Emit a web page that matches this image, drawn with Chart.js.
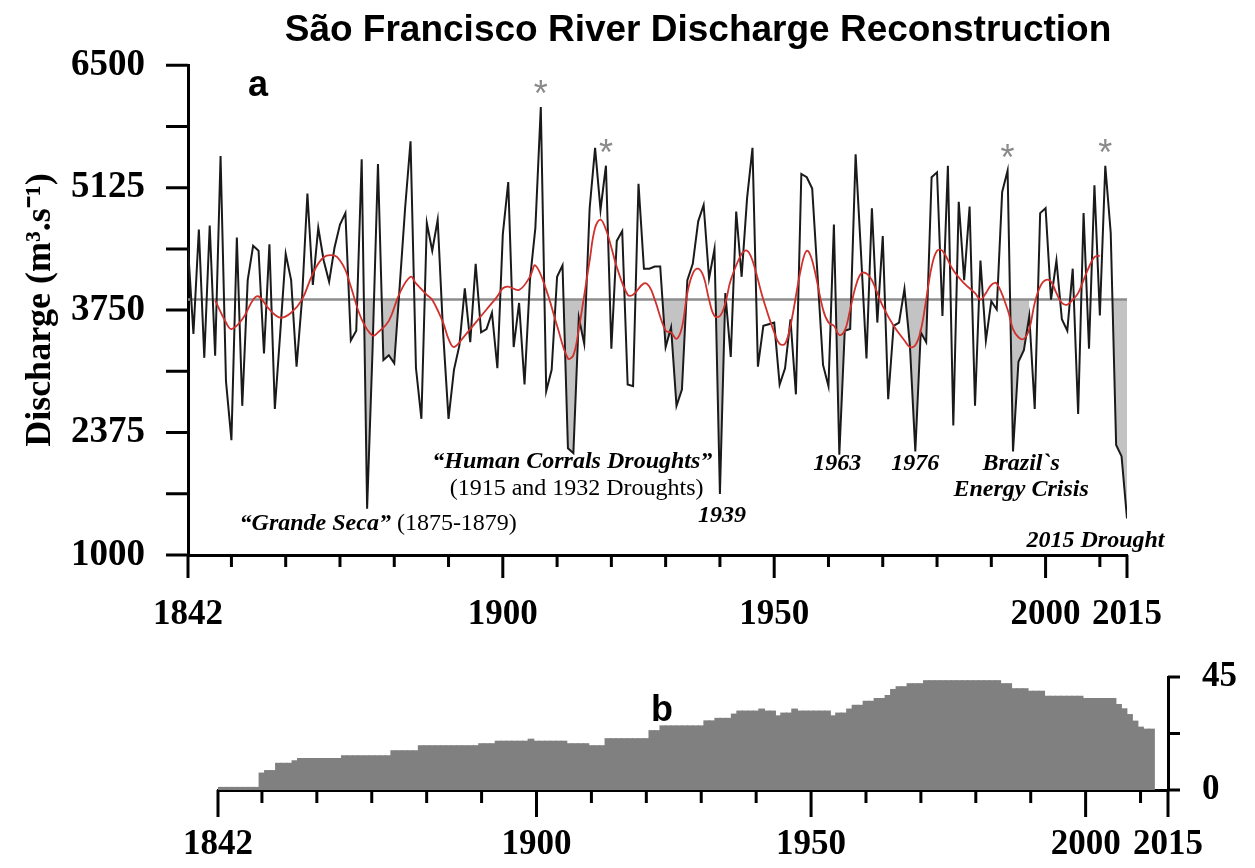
<!DOCTYPE html>
<html>
<head>
<meta charset="utf-8">
<title>São Francisco River Discharge Reconstruction</title>
<script src="https://cdn.jsdelivr.net/npm/chart.js@4.4.1/dist/chart.umd.min.js"></script>
<style>
  html, body { margin: 0; padding: 0; background: #fff; }
  #wrap { position: relative; width: 1255px; height: 868px; }
  #wrap canvas { position: absolute; left: 0; top: 0; }
</style>
</head>
<body>
<div id="wrap">
  <canvas id="dischargeChart" width="1255" height="868"></canvas>
  <canvas id="depthChart" width="1255" height="868"></canvas>
</div>
<script>
// annual reconstructed discharge (m3/s), 1842-2015
const FIRST_YEAR = 1842;
const discharge = [
  4454, 3482, 4655, 3214, 4700, 3237, 5481, 2950,
  2290, 4564, 2675, 4087, 4472, 4417, 3262, 4490, 2639, 3500,
  4381, 4087, 3115, 3867, 5059, 4032, 4674, 4307, 4069, 4454,
  4710, 4839, 3409, 3519, 5444, 1520, 3300, 5389, 3189, 3244,
  3152, 4014, 4894, 5646, 3100, 2529, 4728, 4417, 4765, 3500,
  2529, 3079, 3354, 3995, 3390, 4270, 3500, 3537, 3720, 3097,
  4600, 5187, 3335, 3830, 2914, 4087, 4674, 6031, 2840, 3079,
  4124, 4252, 2199, 2144, 3665, 3372, 4894, 5572, 4875, 5371,
  3317, 4527, 4637, 2914, 2895, 5169, 4215, 4215, 4240, 4240,
  3335, 3555, 2675, 2859, 4087, 4270, 4747, 4930, 4105, 4435,
  1685, 3941, 3225, 4857, 4124, 5004, 5572, 3115, 3574, 3592,
  3610, 2914, 3097, 3647, 2804, 5279, 5242, 5114, 4124, 3134,
  2895, 4710, 2125, 3519, 3537, 5499, 4381, 3207, 4894, 3610,
  4582, 2749, 3574, 3610, 3988, 3354, 2162, 3500, 3390, 5242,
  5297, 3684, 5371, 2455, 4967, 4087, 4912, 2675, 4307, 3409,
  3849, 3757, 5077, 5316, 2162, 3170, 3299, 3684, 2639, 4839,
  4894, 3867, 4307, 3647, 3519, 4215, 2584, 4839, 3317, 5151,
  3691, 5371, 4619, 2235, 2107, 1410
];
const years = discharge.map((v, i) => FIRST_YEAR + i);

// low-pass filtered curve (red)
const smoothYears = [1847, 1849, 1850, 1852, 1854, 1855, 1857, 1859, 1861, 1863, 1865, 1867, 1869, 1870, 1871, 1872, 1874, 1876, 1877, 1879,
  1881, 1883, 1884, 1886, 1887, 1889, 1890, 1891, 1893, 1895, 1897, 1899, 1900, 1901, 1903, 1905, 1906, 1908, 1910, 1912,
  1913, 1914, 1916, 1917, 1918, 1919, 1920, 1921, 1923, 1924, 1926, 1927, 1928, 1930, 1931, 1932, 1933, 1934, 1935, 1936,
  1937, 1938, 1939, 1940, 1941, 1942, 1944, 1945, 1946, 1948, 1950, 1951, 1952, 1953, 1955, 1956, 1957, 1959, 1960, 1961,
  1962, 1963, 1964, 1965, 1966, 1967, 1968, 1970, 1972, 1974, 1975, 1976, 1977, 1978, 1979, 1980, 1981, 1983, 1985, 1987,
  1988, 1989, 1990, 1991, 1993, 1994, 1995, 1996, 1997, 1998, 1999, 2000, 2001, 2002, 2003, 2004, 2005, 2006, 2007, 2008,
  2009, 2010];
const smoothValues = [3860, 3610, 3537, 3647, 3867, 3904, 3757, 3665, 3720, 3867, 4160, 4344, 4362, 4307, 4200, 4014, 3647, 3464, 3500, 3629,
  3941, 4124, 4050, 3922, 3867, 3610, 3427, 3335, 3464, 3610, 3757, 3904, 3995, 4014, 3977, 4124, 4252, 3977, 3574, 3207,
  3244, 3537, 4307, 4674, 4766, 4655, 4454, 4234, 3922, 3922, 4050, 4014, 3867, 3519, 3500, 3427, 3555, 3941, 4160, 4215,
  4124, 3867, 3684, 3684, 3830, 4087, 4381, 4417, 4307, 3867, 3500, 3372, 3372, 3574, 4234, 4417, 4307, 3757, 3610, 3574,
  3471, 3519, 3757, 4014, 4160, 4160, 4087, 3794, 3574, 3409, 3335, 3354, 3519, 3867, 4234, 4417, 4417, 4197, 4050, 3941,
  3867, 3941, 4032, 4050, 3757, 3537, 3445, 3427, 3537, 3830, 4014, 4087, 4069, 3941, 3830, 3812, 3867, 3941, 4087, 4234,
  4344, 4362];

const MEAN_LEVEL = 3870;
// drought periods shaded below the mean
const droughtSpans = [[1874, 1881], [1911, 1916], [1929, 1934], [1939, 1941], [1961, 1964], [1974, 1979], [1993, 1997], [2012, 2015]];
const peakYears = [1907, 1919, 1993, 2011];

// number of series (sample depth), 1842-2012
const sampleDepth = [
  1, 1, 1, 1, 1, 1, 1, 1,
  6.7, 7.7, 7.7, 10.6, 10.6, 10.6, 11.6, 12.5, 12.5, 12.5,
  12.5, 12.5, 12.5, 12.5, 12.5, 13.6, 13.6, 13.6, 13.6, 13.6,
  13.6, 13.6, 13.6, 13.6, 15.6, 15.6, 15.6, 15.6, 15.6, 17.6,
  17.6, 17.6, 17.6, 17.6, 17.6, 17.6, 17.6, 17.6, 17.6, 17.6,
  18.4, 18.4, 18.4, 19.4, 19.4, 19.4, 19.4, 19.4, 19.4, 20.2,
  19.4, 19.4, 19.4, 19.4, 19.4, 19.4, 18.4, 18.4, 18.4, 18.4,
  17.6, 17.6, 17.6, 20.4, 20.4, 20.4, 20.4, 20.4, 20.4, 20.4,
  20.4, 23.6, 23.6, 25.5, 25.5, 25.5, 25.5, 25.5, 25.5, 25.5,
  25.5, 27.5, 27.5, 28.5, 28.5, 28.5, 30.2, 31.4, 31.4, 31.4,
  31.4, 32.2, 31.4, 31.4, 29.5, 30.6, 30.6, 32.2, 31.4, 31.4,
  31.4, 31.4, 31.4, 31.4, 29.5, 30.6, 30.6, 32.2, 33.7, 33.7,
  35.3, 35.3, 36.4, 36.4, 37.6, 40, 41.1, 41.1, 42.3, 42.3,
  42.3, 43.5, 43.5, 43.5, 43.5, 43.5, 43.5, 43.5, 43.5, 43.5,
  43.5, 43.5, 43.5, 43.5, 43.5, 42.3, 42.3, 40.3, 40.3, 40.3,
  39.3, 39.3, 39.3, 37.3, 37.3, 37.3, 37.3, 37.3, 37.3, 37.3,
  36.4, 36.4, 36.4, 36.4, 36.4, 36.4, 34, 32.3, 30, 27.4,
  25, 24.2, 24.2
];
const depthYears = sampleDepth.map((v, i) => FIRST_YEAR + i);

// axis ticks
const xTickYears = [1842, 1850, 1860, 1870, 1880, 1890, 1900, 1910, 1920, 1930, 1940, 1950, 1960, 1970, 1980, 1990, 2000, 2010, 2015];
const xLabelYears = [1842, 1900, 1950, 2000, 2015];
const yTicks = [1000, 1687.5, 2375, 3062.5, 3750, 4437.5, 5125, 5812.5, 6500];
const yLabels = [1000, 2375, 3750, 5125, 6500];
const depthTicks = [0, 22.5, 45];
const depthLabels = [0, 45];

const serifBold = {family: '"Liberation Serif", "Times New Roman", serif', weight: 'bold', size: 35};
const BI = 'italic bold 24px "Liberation Serif"';
const RG = '24px "Liberation Serif"';

const notes = [
  {year: 1851.5, value: 1351, align: 'left', parts: [{text: '“Grande Seca”', font: BI}, {text: ' (1875-1879)', font: RG}]},
  {year: 1912.8, value: 2043, align: 'center', parts: [{text: '“Human Corrals Droughts”', font: BI}]},
  {year: 1913.6, value: 1747, align: 'center', parts: [{text: '(1915 and 1932 Droughts)', font: RG}]},
  {year: 1940.4, value: 1439, align: 'center', parts: [{text: '1939', font: BI}]},
  {year: 1961.6, value: 2021, align: 'center', parts: [{text: '1963', font: BI}]},
  {year: 1976.0, value: 2021, align: 'center', parts: [{text: '1976', font: BI}]},
  {year: 1995.5, value: 2021, align: 'center', parts: [{text: 'Brazil`s', font: BI}]},
  {year: 1995.5, value: 1736, align: 'center', parts: [{text: 'Energy Crisis', font: BI}]},
  {year: 2009.2, value: 1165, align: 'center', parts: [{text: '2015 Drought', font: BI}]}
];

function inDrought(yr) {
  return droughtSpans.some(s => yr >= s[0] && yr <= s[1]);
}

// tick marks with long major / short minor ticks
const tickMarks = {
  id: 'tickMarks',
  afterDraw(chart, args, opts) {
    const ctx = chart.ctx, area = chart.chartArea;
    const xs = chart.scales.x, ys = chart.scales.y;
    ctx.save();
    ctx.strokeStyle = '#000';
    ctx.lineWidth = 3;
    ctx.beginPath();
    xs.ticks.forEach(t => {
      const px = xs.getPixelForValue(t.value);
      const len = opts.majors.includes(t.value) ? opts.xMajor : opts.xMinor;
      ctx.moveTo(px, area.bottom);
      ctx.lineTo(px, area.bottom + len);
    });
    ys.ticks.forEach(t => {
      const py = ys.getPixelForValue(t.value);
      if (opts.yRight) {
        ctx.moveTo(area.right, py);
        ctx.lineTo(area.right + opts.yLen, py);
      } else {
        ctx.moveTo(area.left - opts.yLen, py);
        ctx.lineTo(area.left, py);
      }
    });
    ctx.stroke();
    ctx.restore();
  }
};

// free text: annotations, peak stars, title and panel letters
const textLayer = {
  id: 'textLayer',
  afterDraw(chart, args, opts) {
    const ctx = chart.ctx, xs = chart.scales.x, ys = chart.scales.y;
    ctx.save();
    ctx.textBaseline = 'middle';
    (opts.notes || []).forEach(n => {
      let x = xs.getPixelForValue(n.year);
      const y = ys.getPixelForValue(n.value);
      let total = 0;
      n.parts.forEach(p => { ctx.font = p.font; total += ctx.measureText(p.text).width; });
      if (n.align === 'center') x -= total / 2;
      ctx.textAlign = 'left';
      n.parts.forEach(p => {
        ctx.font = p.font;
        ctx.fillStyle = '#000';
        ctx.fillText(p.text, x, y);
        x += ctx.measureText(p.text).width;
      });
    });
    (opts.stars || []).forEach(yr => {
      const v = discharge[yr - FIRST_YEAR];
      ctx.font = '36px "Liberation Sans"';
      ctx.fillStyle = '#8a8a8a';
      ctx.textAlign = 'center';
      ctx.textBaseline = 'alphabetic';
      ctx.fillText('*', xs.getPixelForValue(yr), ys.getPixelForValue(v) - 21 + 20);
    });
    (opts.labels || []).forEach(l => {
      ctx.font = l.font;
      ctx.fillStyle = '#000';
      ctx.textAlign = 'center';
      ctx.textBaseline = 'middle';
      ctx.fillText(l.text, l.x, l.y);
    });
    ctx.restore();
  }
};

const dischargeData = years.map((yr, i) => ({x: yr, y: discharge[i]}));
const droughtData = years.map((yr, i) => ({x: yr, y: inDrought(yr) ? discharge[i] : null}));
const smoothData = smoothYears.map((yr, i) => ({x: yr, y: smoothValues[i]}));
const meanData = [{x: years[0], y: MEAN_LEVEL}, {x: years[years.length - 1], y: MEAN_LEVEL}];

new Chart(document.getElementById('dischargeChart'), {
  type: 'line',
  data: {
    datasets: [
      {
        label: 'Discharge',
        data: dischargeData,
        borderColor: '#1a1a1a',
        borderWidth: 2,
        pointRadius: 0,
        tension: 0,
        order: 2
      },
      {
        label: 'Filtered',
        data: smoothData,
        borderColor: '#d0312d',
        borderWidth: 1.8,
        pointRadius: 0,
        tension: 0.4,
        order: 1
      },
      {
        label: 'Mean',
        data: meanData,
        borderColor: '#8c8c8c',
        borderWidth: 2.5,
        pointRadius: 0,
        order: 3
      },
      {
        label: 'Droughts',
        data: droughtData,
        borderWidth: 0,
        borderColor: 'rgba(0,0,0,0)',
        pointRadius: 0,
        spanGaps: false,
        fill: {target: {value: MEAN_LEVEL}, above: 'rgba(0,0,0,0)', below: '#c3c3c3'},
        order: 4
      }
    ]
  },
  options: {
    responsive: false,
    animation: false,
    layout: {padding: {top: 54, right: 128, left: 0, bottom: 0}},
    plugins: {
      legend: {display: false},
      tooltip: {enabled: false},
      tickMarks: {majors: xLabelYears, xMajor: 23, xMinor: 12, yLen: 22, yRight: false},
      textLayer: {
        notes: notes,
        stars: peakYears,
        labels: [
          {text: 'São Francisco River Discharge Reconstruction', x: 698, y: 31, font: 'bold 37px "Liberation Sans"'},
          {text: 'a', x: 258, y: 86, font: 'bold 36px "Liberation Sans"'}
        ]
      }
    },
    scales: {
      x: {
        type: 'linear',
        min: 1842,
        max: 2015,
        afterFit: s => { s.height = 868 - 555; },
        afterBuildTicks: s => { s.ticks = xTickYears.map(v => ({value: v})); },
        ticks: {
          autoSkip: false, maxRotation: 0, padding: 39, color: '#000', font: serifBold,
          callback: v => xLabelYears.includes(v) ? String(v) : ''
        },
        grid: {drawOnChartArea: false, drawTicks: false},
        border: {display: true, color: '#000', width: 3}
      },
      y: {
        min: 1000,
        max: 6500,
        afterFit: s => { s.width = 188; },
        afterBuildTicks: s => { s.ticks = yTicks.map(v => ({value: v})); },
        ticks: {
          padding: 43, color: '#000', font: {family: serifBold.family, weight: 'bold', size: 37},
          callback: v => yLabels.includes(v) ? String(v) : ''
        },
        grid: {drawOnChartArea: false, drawTicks: false},
        border: {display: true, color: '#000', width: 3},
        title: {
          display: true,
          text: 'Discharge (m³.s⁻¹)',
          color: '#000',
          font: {family: serifBold.family, weight: 'bold', size: 36},
          padding: {top: 19, bottom: 0}
        }
      }
    }
  },
  plugins: [tickMarks, textLayer]
});

new Chart(document.getElementById('depthChart'), {
  type: 'bar',
  data: {
    datasets: [{
      label: 'Sample depth',
      data: depthYears.map((yr, i) => ({x: yr, y: sampleDepth[i]})),
      backgroundColor: '#808080',
      borderWidth: 0,
      inflateAmount: 0.6,
      barPercentage: 1,
      categoryPercentage: 1
    }]
  },
  options: {
    responsive: false,
    animation: false,
    layout: {padding: {top: 677, left: 218, right: 0, bottom: 0}},
    plugins: {
      legend: {display: false},
      tooltip: {enabled: false},
      tickMarks: {majors: xLabelYears, xMajor: 27, xMinor: 13, yLen: 12, yRight: true},
      textLayer: {
        labels: [{text: 'b', x: 662, y: 711, font: 'bold 36px "Liberation Sans"'}]
      }
    },
    scales: {
      x: {
        type: 'linear',
        min: 1842,
        max: 2015,
        offset: false,
        afterFit: s => { s.height = 868 - 790; },
        afterBuildTicks: s => { s.ticks = xTickYears.map(v => ({value: v})); },
        ticks: {
          autoSkip: false, maxRotation: 0, padding: 34, color: '#000', font: serifBold,
          callback: v => xLabelYears.includes(v) ? String(v) : ''
        },
        grid: {drawOnChartArea: false, drawTicks: false, offset: false},
        border: {display: true, color: '#000', width: 3}
      },
      y: {
        position: 'right',
        min: 0,
        max: 45,
        afterFit: s => { s.width = 1255 - 1168; },
        afterBuildTicks: s => { s.ticks = depthTicks.map(v => ({value: v})); },
        ticks: {
          padding: 34, color: '#000', font: serifBold,
          callback: v => depthLabels.includes(v) ? String(v) : ''
        },
        grid: {drawOnChartArea: false, drawTicks: false},
        border: {display: true, color: '#000', width: 3}
      }
    }
  },
  plugins: [tickMarks, textLayer]
});
</script>
</body>
</html>
